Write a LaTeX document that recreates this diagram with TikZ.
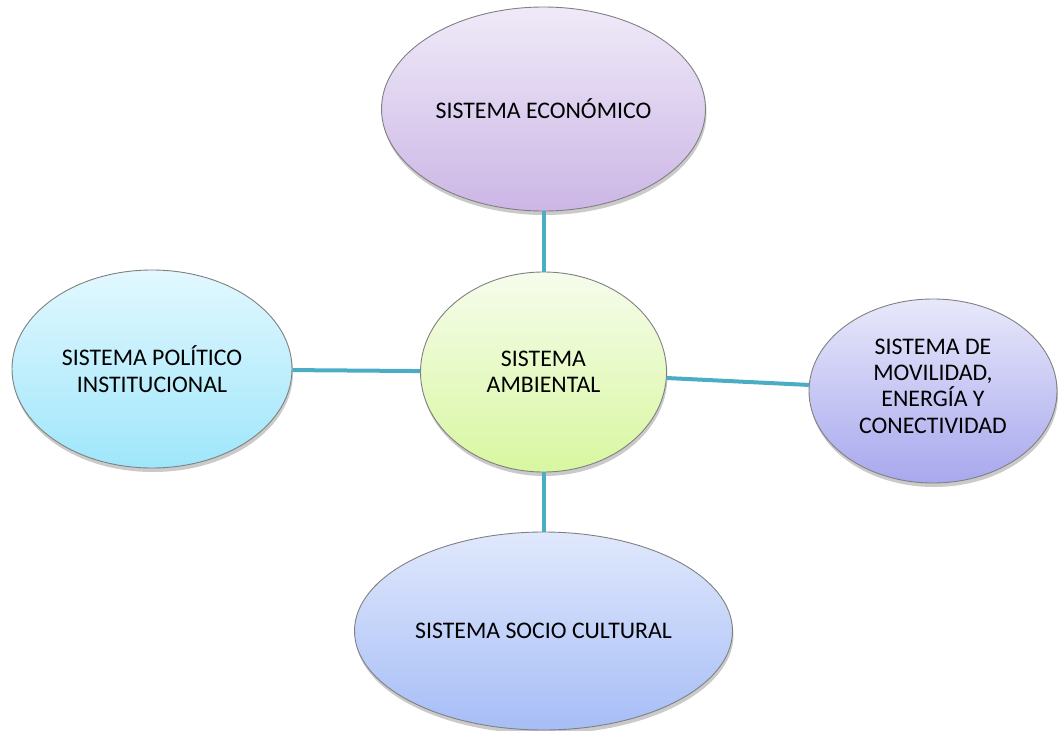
\documentclass[tikz,border=0pt]{standalone}
\usepackage{fontspec}
\setmainfont{Carlito}
\usetikzlibrary{shapes.geometric,shadows}
\definecolor{conn}{HTML}{4BACC6}
\definecolor{edge}{HTML}{808080}
\definecolor{ecoT}{HTML}{EFEAF8}\definecolor{ecoB}{HTML}{CCB6E6}
\definecolor{polT}{HTML}{E2F8FE}\definecolor{polB}{HTML}{9FE6FB}
\definecolor{ambT}{HTML}{F6FCEC}\definecolor{ambB}{HTML}{D8F7A0}
\definecolor{movT}{HTML}{E8E8FB}\definecolor{movB}{HTML}{A8A8EE}
\definecolor{socT}{HTML}{E0E8FC}\definecolor{socB}{HTML}{A6BDF6}
\tikzset{
  lbl/.style={font=\fontsize{23.8}{26.3}\selectfont, align=center},
  sys/.style={ellipse, draw=edge, line width=0.9pt, inner sep=0pt, lbl,
    drop shadow={shadow xshift=1pt, shadow yshift=-4pt, opacity=0.35, fill=black!60}},
  link/.style={draw=conn, line width=4pt}
}
\begin{document}
\begin{tikzpicture}[x=1pt,y=-1pt]
\useasboundingbox (0,0) rectangle (1058,731);
\node[sys, minimum width=324pt, minimum height=204pt, top color=ecoT, bottom color=ecoB] (eco) at (543.5,109) {SISTEMA ECONÓMICO};
\node[sys, minimum width=280pt, minimum height=198pt, top color=polT, bottom color=polB] (pol) at (152,369) {SISTEMA POLÍTICO\\INSTITUCIONAL};
\node[sys, minimum width=246pt, minimum height=200pt, top color=ambT, bottom color=ambB] (amb) at (543.5,372) {SISTEMA\\AMBIENTAL};
\node[sys, minimum width=248pt, minimum height=184pt, top color=movT, bottom color=movB] (mov) at (933,391) {};
\node[lbl] (movt) at (933,386) {SISTEMA DE\\MOVILIDAD,\\ENERGÍA Y\\CONECTIVIDAD};
\node[sys, minimum width=378pt, minimum height=198pt, top color=socT, bottom color=socB] (soc) at (543.5,631) {SISTEMA SOCIO CULTURAL};
\draw[link] (eco) -- (amb);
\draw[link] (pol) -- (amb);
\draw[link] (amb) -- (mov);
\draw[link] (amb) -- (soc);
\end{tikzpicture}
\end{document}
